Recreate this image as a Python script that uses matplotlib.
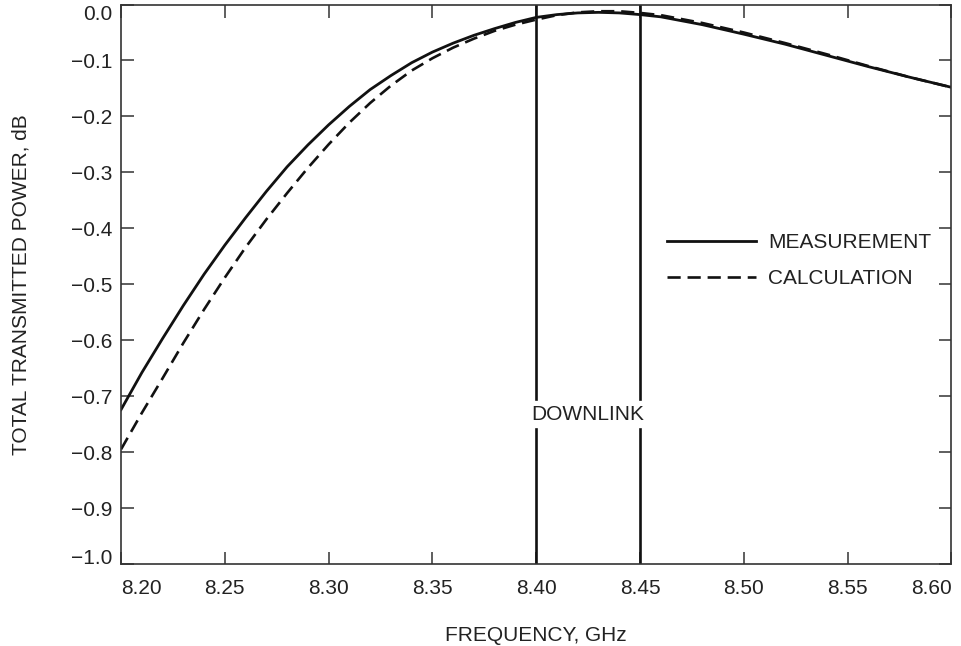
import matplotlib
matplotlib.use("Agg")
import matplotlib.pyplot as plt

plt.rcParams['font.family'] = ['Liberation Sans', 'DejaVu Sans']

freq = [8.20, 8.21, 8.22, 8.23, 8.24, 8.25, 8.26, 8.27, 8.28, 8.29, 8.30,
        8.31, 8.32, 8.33, 8.34, 8.35, 8.36, 8.37, 8.38, 8.39, 8.40,
        8.41, 8.42, 8.43, 8.44, 8.45, 8.46, 8.48, 8.50, 8.52, 8.54, 8.56, 8.58, 8.60]
measurement = [-0.724, -0.658, -0.597, -0.538, -0.482, -0.430, -0.381, -0.334,
               -0.290, -0.251, -0.215, -0.182, -0.152, -0.127, -0.104, -0.085,
               -0.069, -0.055, -0.043, -0.032, -0.023,
               -0.018, -0.015, -0.014, -0.015, -0.018, -0.022, -0.036, -0.053,
               -0.071, -0.091, -0.111, -0.130, -0.148]
calculation = [-0.795, -0.730, -0.668, -0.605, -0.545, -0.488, -0.434, -0.384,
               -0.337, -0.292, -0.250, -0.211, -0.176, -0.145, -0.118, -0.096,
               -0.077, -0.061, -0.047, -0.036, -0.027,
               -0.019, -0.014, -0.012, -0.012, -0.015, -0.019, -0.033, -0.050,
               -0.069, -0.089, -0.110, -0.130, -0.148]
downlink = [8.40, 8.45]
xticks = [8.20, 8.25, 8.30, 8.35, 8.40, 8.45, 8.50, 8.55, 8.60]
xticklabels = ['8.20', '8.25', '8.30', '8.35', '8.40', '8.45', '8.50', '8.55', '8.60']
yticks = [0.0, -0.1, -0.2, -0.3, -0.4, -0.5, -0.6, -0.7, -0.8, -0.9, -1.0]
yticklabels = ['0.0', '\u22120.1', '\u22120.2', '\u22120.3', '\u22120.4', '\u22120.5',
               '\u22120.6', '\u22120.7', '\u22120.8', '\u22120.9', '\u22121.0']

FS = 15

fig = plt.figure(figsize=(9.61, 6.46), dpi=100)
ax = fig.add_axes([0.126, 0.127, 0.864, 0.866])

ax.plot(freq, measurement, color='#111111', lw=2.0, label='MEASUREMENT')
ax.plot(freq, calculation, color='#111111', lw=1.9, linestyle=(0, (5.0, 2.6)),
        label='CALCULATION')

# downlink band lines, broken around the label
text_y = -0.732
gap_lo, gap_hi = -0.758, -0.706
for x in downlink:
    ax.axvline(x, ymin=0, ymax=1 + gap_lo, color='#111111', lw=1.9)
    ax.axvline(x, ymin=1 + gap_hi, ymax=1, color='#111111', lw=1.9)
ax.text(sum(downlink) / 2, text_y, 'DOWNLINK', ha='center', va='center',
        fontsize=FS, color='#222222')

ax.set_xlim(8.20, 8.60)
ax.set_ylim(-1.0, 0.0)
ax.set_xticks(xticks)
ax.set_xticklabels(xticklabels)
ax.set_yticks(yticks)
ax.set_yticklabels(yticklabels)

ax.tick_params(axis='both', direction='in', length=9, width=1.1, color='#333333',
               top=True, right=True, labelsize=FS, labelcolor='#222222')
ax.tick_params(axis='x', pad=11)
ax.tick_params(axis='y', pad=6.5)

xl = ax.get_xticklabels()
xl[0].set_ha('left')
xl[-1].set_ha('right')
yl = ax.get_yticklabels()
yl[0].set_va('top')
yl[-1].set_va('baseline')

for s in ax.spines.values():
    s.set_linewidth(1.2)
    s.set_color('#333333')

ax.set_xlabel('FREQUENCY, GHz', fontsize=FS, color='#222222', labelpad=20)
ax.set_ylabel('TOTAL TRANSMITTED POWER, dB', fontsize=FS, color='#222222', labelpad=29)

leg = ax.legend(loc='upper left', bbox_to_anchor=(0.658, 0.591), frameon=False,
                fontsize=FS, handlelength=4.25, handletextpad=0.6,
                labelspacing=0.8, borderpad=0, borderaxespad=0)
for t in leg.get_texts():
    t.set_color('#222222')

fig.savefig('out.png', dpi=100)
